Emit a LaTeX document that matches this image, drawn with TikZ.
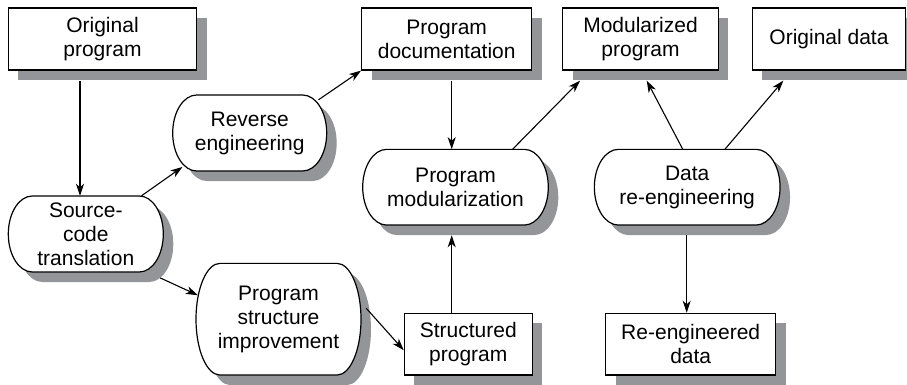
\documentclass[tikz,border=0pt]{standalone}
\usepackage{fontspec}
\setmainfont{Liberation Sans}
\usetikzlibrary{arrows.meta,calc}
\definecolor{shadowgray}{RGB}{147,149,152}
\tikzset{
  box/.style={draw=black, line width=1.2pt, fill=white, inner sep=0pt, align=center,
    font=\fontsize{21}{24}\selectfont},
  lbl/.style={inner sep=0pt, align=center, font=\fontsize{21}{24}\selectfont},
  outline/.style={draw=black, line width=1.2pt, fill=white},
  shadowfill/.style={fill=shadowgray, draw=none},
  arr/.style={-{Stealth[length=12pt,width=8pt,inset=3.5pt]}, line width=1.1pt},
}
\newcommand\sr{24}
% rectangle box: name, cx, cy (pixels, downward), w, h, text
\newcommand\rbox[6]{%
  \fill[shadowfill] ({#2-#4/2+10},{-#3-#5/2-10}) rectangle ({#2+#4/2+10},{-#3+#5/2-10});
  \node[box, minimum width=#4pt, minimum height=#5pt] (#1) at (#2,-#3) {#6};
}
% stadium: name, cx, cy, w, h, text
\newcommand\stadium[6]{%
  \fill[shadowfill] ({#2-#4/2+\sr+10},{-#3+#5/2-10}) -- ({#2+#4/2-\sr+10},{-#3+#5/2-10})
    arc[start angle=90, end angle=-90, x radius=\sr pt, y radius={#5/2*1pt}]
    -- ({#2-#4/2+\sr+10},{-#3-#5/2-10})
    arc[start angle=270, end angle=90, x radius=\sr pt, y radius={#5/2*1pt}] -- cycle;
  \path[outline] ({#2-#4/2+\sr},{-#3+#5/2}) -- ({#2+#4/2-\sr},{-#3+#5/2})
    arc[start angle=90, end angle=-90, x radius=\sr pt, y radius={#5/2*1pt}]
    -- ({#2-#4/2+\sr},{-#3-#5/2})
    arc[start angle=270, end angle=90, x radius=\sr pt, y radius={#5/2*1pt}] -- cycle;
  \node[lbl, minimum width=#4pt, minimum height=#5pt] (#1) at (#2,-#3) {#6};
}
\begin{document}
\begin{tikzpicture}[x=1pt,y=1pt]
\useasboundingbox (0,0) rectangle (907,-385);
\clip (0,0) rectangle (907,-385);

\rbox{op}{102.5}{39}{188.4}{62}{Original\\program}
\rbox{pd}{446.7}{39}{170}{62}{Program\\documentation}
\rbox{mp}{640.5}{39}{155.6}{62}{Modularized\\program}
\rbox{od}{829}{39}{153.5}{62}{Original data}
\rbox{sp}{468.3}{344.2}{128}{61.7}{Structured\\program}
\rbox{rd}{690.7}{344.2}{170}{61.7}{Re-engineered\\data}

\stadium{re}{249.7}{133}{154}{76}{Reverse\\engineering}
\stadium{sct}{85.8}{234}{155}{76}{Source-\\code\\translation}
\stadium{psi}{278.5}{319.2}{165}{111.7}{Program\\structure\\improvement}
\stadium{pm}{455.5}{187.2}{185.6}{75.7}{Program\\modularization}
\stadium{dr}{687.2}{187.2}{185.7}{75.7}{Data\\re-engineering}

\draw[arr] ([shift={(-22.5pt,-10pt)}]op.south) -- ([xshift=-5.8pt]sct.north);
\draw[arr] ([xshift=55.7pt]sct.north) -- ([shift={(10pt,4.3pt)}]re.south west);
\draw[arr] ([shift={(-8.4pt,-5pt)}]re.north east) -- (pd.south west);
\draw[arr] ([shift={(5pt,-10pt)}]pd.south) -- ([xshift=-3.8pt]pm.north);
\draw[arr] ([xshift=57.2pt]pm.north) -- ([shift={(18pt,-10pt)}]mp.south west);
\draw[arr] ([xshift=-4.5pt]dr.north) -- ([shift={(6.2pt,-10pt)}]mp.south);
\draw[arr] ([xshift=37.8pt]dr.north) -- ([shift={(31.7pt,-10pt)}]od.south west);
\draw[arr] ([shift={(-3.3pt,-5.7pt)}]sct.south east) -- ([shift={(2pt,24pt)}]psi.west);
\draw[arr] ([shift={(5pt,11pt)}]psi.east) -- ([yshift=-6pt]sp.west);
\draw[arr] ([xshift=-16.6pt]sp.north) -- ([shift={(-3.8pt,-10pt)}]pm.south);
\draw[arr] ([shift={(-0.5pt,-10pt)}]dr.south) -- ([xshift=-4pt]rd.north);
\end{tikzpicture}
\end{document}
